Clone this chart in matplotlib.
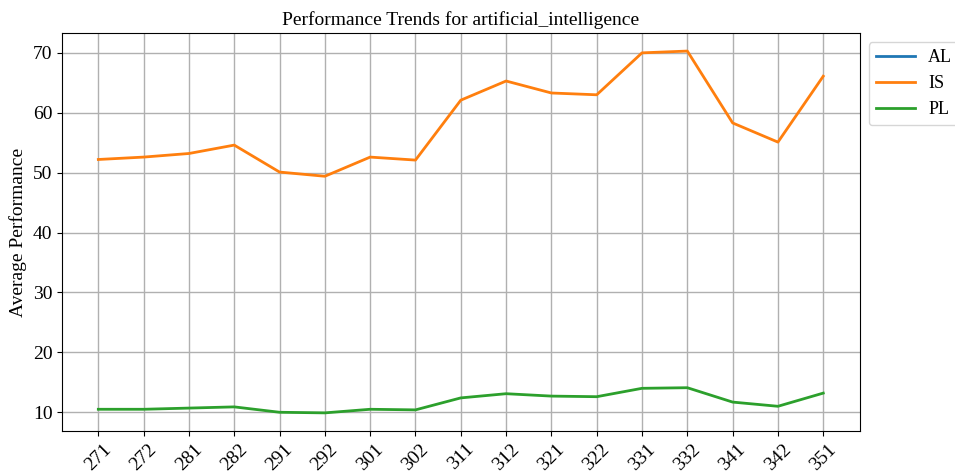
import numpy as np
import matplotlib
matplotlib.use('Agg')
import matplotlib.pyplot as plt

plt.rcParams['font.family'] = ['Liberation Serif', 'DejaVu Serif']
plt.rcParams['font.size'] = 14

# Data
categories = ['271', '272', '281', '282', '291', '292', '301', '302', '311',
              '312', '321', '322', '331', '332', '341', '342', '351']
al_values = [np.nan] * len(categories)  # AL has no visible values
is_values = [52.2, 52.6, 53.2, 54.6, 50.1, 49.4, 52.6, 52.1, 62.1,
             65.3, 63.3, 63.0, 70.0, 70.3, 58.3, 55.1, 66.1]
pl_values = [10.5, 10.5, 10.7, 10.9, 10.0, 9.9, 10.5, 10.4, 12.4,
             13.1, 12.7, 12.6, 14.0, 14.1, 11.7, 11.0, 13.2]

fig, ax = plt.subplots(figsize=(9.55, 4.71), dpi=100)
x = np.arange(len(categories))
ax.plot(x, al_values, label='AL', linewidth=2)
ax.plot(x, is_values, label='IS', linewidth=2)
ax.plot(x, pl_values, label='PL', linewidth=2)

ax.set_xticks(x)
ax.set_xticklabels(categories, rotation=45)
ax.set_ylabel('Average Performance')
ax.set_title('Performance Trends for artificial_intelligence', fontsize=14)
ax.grid(True, linewidth=1)
ax.legend(loc='upper left', bbox_to_anchor=(1.0, 1.0), fontsize=13,
          handlelength=2.2, handletextpad=0.7)

fig.subplots_adjust(left=0.065, right=0.9, top=0.93, bottom=0.085)
fig.savefig('out.png', dpi=100)
